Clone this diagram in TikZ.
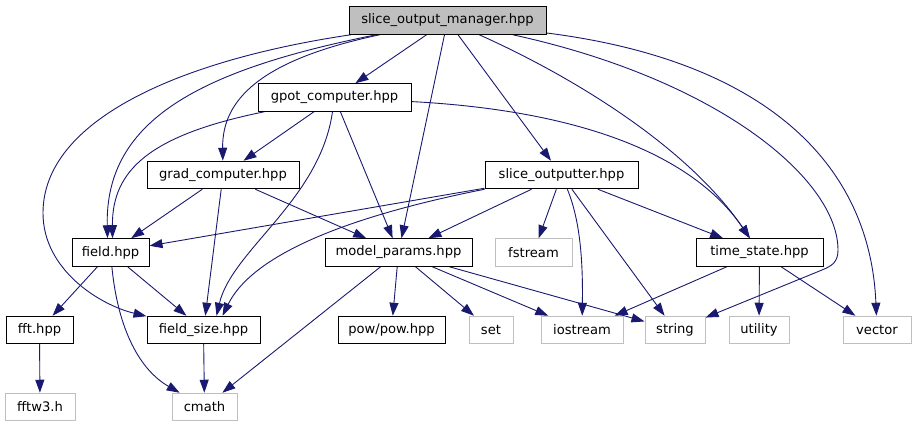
\documentclass[tikz,border=0pt]{standalone}
\usepackage{fontspec}
\newfontfamily\dvfont{DejaVu Sans}
\usetikzlibrary{arrows.meta,backgrounds}
\definecolor{edgeblue}{HTML}{191970}
\definecolor{extgray}{HTML}{BFBFBF}
\tikzset{
  docnode/.style={draw=black, fill=white, line width=1pt, rectangle, inner sep=0pt,
    minimum height=27.5pt, font={\dvfont\fontsize{13.1pt}{15pt}\selectfont}},
  extnode/.style={docnode, draw=extgray},
  edge/.style={draw=edgeblue, line width=0.9pt, -{Triangle[length=13pt,width=9pt]}, fill=none},
}
\begin{document}
\begin{tikzpicture}[x=1pt,y=-1pt]
\useasboundingbox (0,0) rectangle (916,427);
% row 0
\node[docnode, fill=extgray, minimum width=197pt] (som) at (447.5,20.5) {slice\_output\_manager.hpp};
% row 1
\node[docnode, minimum width=153pt] (gpot) at (334.5,97.5) {gpot\_computer.hpp};
% row 2
\node[docnode, minimum width=152pt] (grad) at (223,175) {grad\_computer.hpp};
\node[docnode, minimum width=153pt] (so) at (561.5,175) {slice\_outputter.hpp};
% row 3
\node[docnode, minimum width=77pt] (field) at (110.5,252.5) {field.hpp};
\node[docnode, minimum width=147pt] (mp) at (398.5,252.5) {model\_params.hpp};
\node[extnode, minimum width=77pt] (fstream) at (533.5,252.5) {fstream};
\node[docnode, minimum width=127pt] (ts) at (759.5,252.5) {time\_state.hpp};
% row 4
\node[docnode, minimum width=67pt] (fft) at (39.5,330) {fft.hpp};
\node[docnode, minimum width=113pt] (fs) at (203.5,330) {field\_size.hpp};
\node[docnode, minimum width=107pt] (pow) at (391.5,330) {pow/pow.hpp};
\node[extnode, minimum width=44pt] (set) at (491,330) {set};
\node[extnode, minimum width=82pt] (ios) at (582,330) {iostream};
\node[extnode, minimum width=60pt] (str) at (675,330) {string};
\node[extnode, minimum width=60pt] (util) at (759,330) {utility};
\node[extnode, minimum width=68pt] (vec) at (877,330) {vector};
% row 5
\node[extnode, minimum width=70pt] (fftw) at (40,407) {fftw3.h};
\node[extnode, minimum width=65pt] (cmath) at (204.5,407) {cmath};

\begin{pgfonlayer}{background}
% from slice_output_manager
\draw[edge] (som) -- (gpot);
\draw[edge] (som) .. controls (260,60) and (222,100) .. (grad);
\draw[edge] (som) .. controls (200,70) and (105,120) .. ([xshift=-3pt]field.north);
\draw[edge] (som) .. controls (180,60) and (43,120) .. (43,213) .. controls (43,270) and (100,305) .. (fs);
\draw[edge] (som) -- (mp);
\draw[edge] (som) -- (so);
\draw[edge] (som) .. controls (580,80) and (690,150) .. (ts);
\draw[edge] (som) .. controls (720,80) and (838,180) .. (838,250) .. controls (838,262) and (832,266) .. (822,270) -- (str);
\draw[edge] (som) .. controls (760,60) and (870,160) .. (vec);
% from gpot_computer
\draw[edge] (gpot) -- (grad);
\draw[edge] (gpot) .. controls (150,135) and (112,170) .. ([xshift=2pt]field.north);
\draw[edge] (gpot) .. controls (320,200) and (232,250) .. ([xshift=13pt]fs.north);
\draw[edge] (gpot) -- (mp);
\draw[edge] (gpot) .. controls (570,110) and (690,150) .. (ts);
% from grad_computer
\draw[edge] (grad) -- (field);
\draw[edge] (grad) -- (fs);
\draw[edge] (grad) -- (mp);
% from slice_outputter
\draw[edge] (so) -- (field);
\draw[edge] (so.south west) .. controls (330,220) and (250,260) .. ([xshift=19pt]fs.north);
\draw[edge] (so) -- (mp);
\draw[edge] (so) -- (fstream);
\draw[edge] (so) .. controls (580,220) and (583,260) .. (ios);
\draw[edge] (so) -- (str);
\draw[edge] (so) -- (ts);
% from field
\draw[edge] (field) -- (fft);
\draw[edge] (field) -- (fs);
\draw[edge] (field) .. controls (118,330) and (140,370) .. (cmath);
% from model_params
\draw[edge] (mp) -- (cmath);
\draw[edge] (mp) -- (pow);
\draw[edge] (mp) -- (set);
\draw[edge] (mp) -- (ios);
\draw[edge] (mp) -- (str);
% from time_state
\draw[edge] (ts) -- (ios);
\draw[edge] (ts) -- (util);
\draw[edge] (ts) -- (vec);
% others
\draw[edge] (fs) -- (cmath);
\draw[edge] (fft) -- (fftw);
\end{pgfonlayer}
\end{tikzpicture}
\end{document}
